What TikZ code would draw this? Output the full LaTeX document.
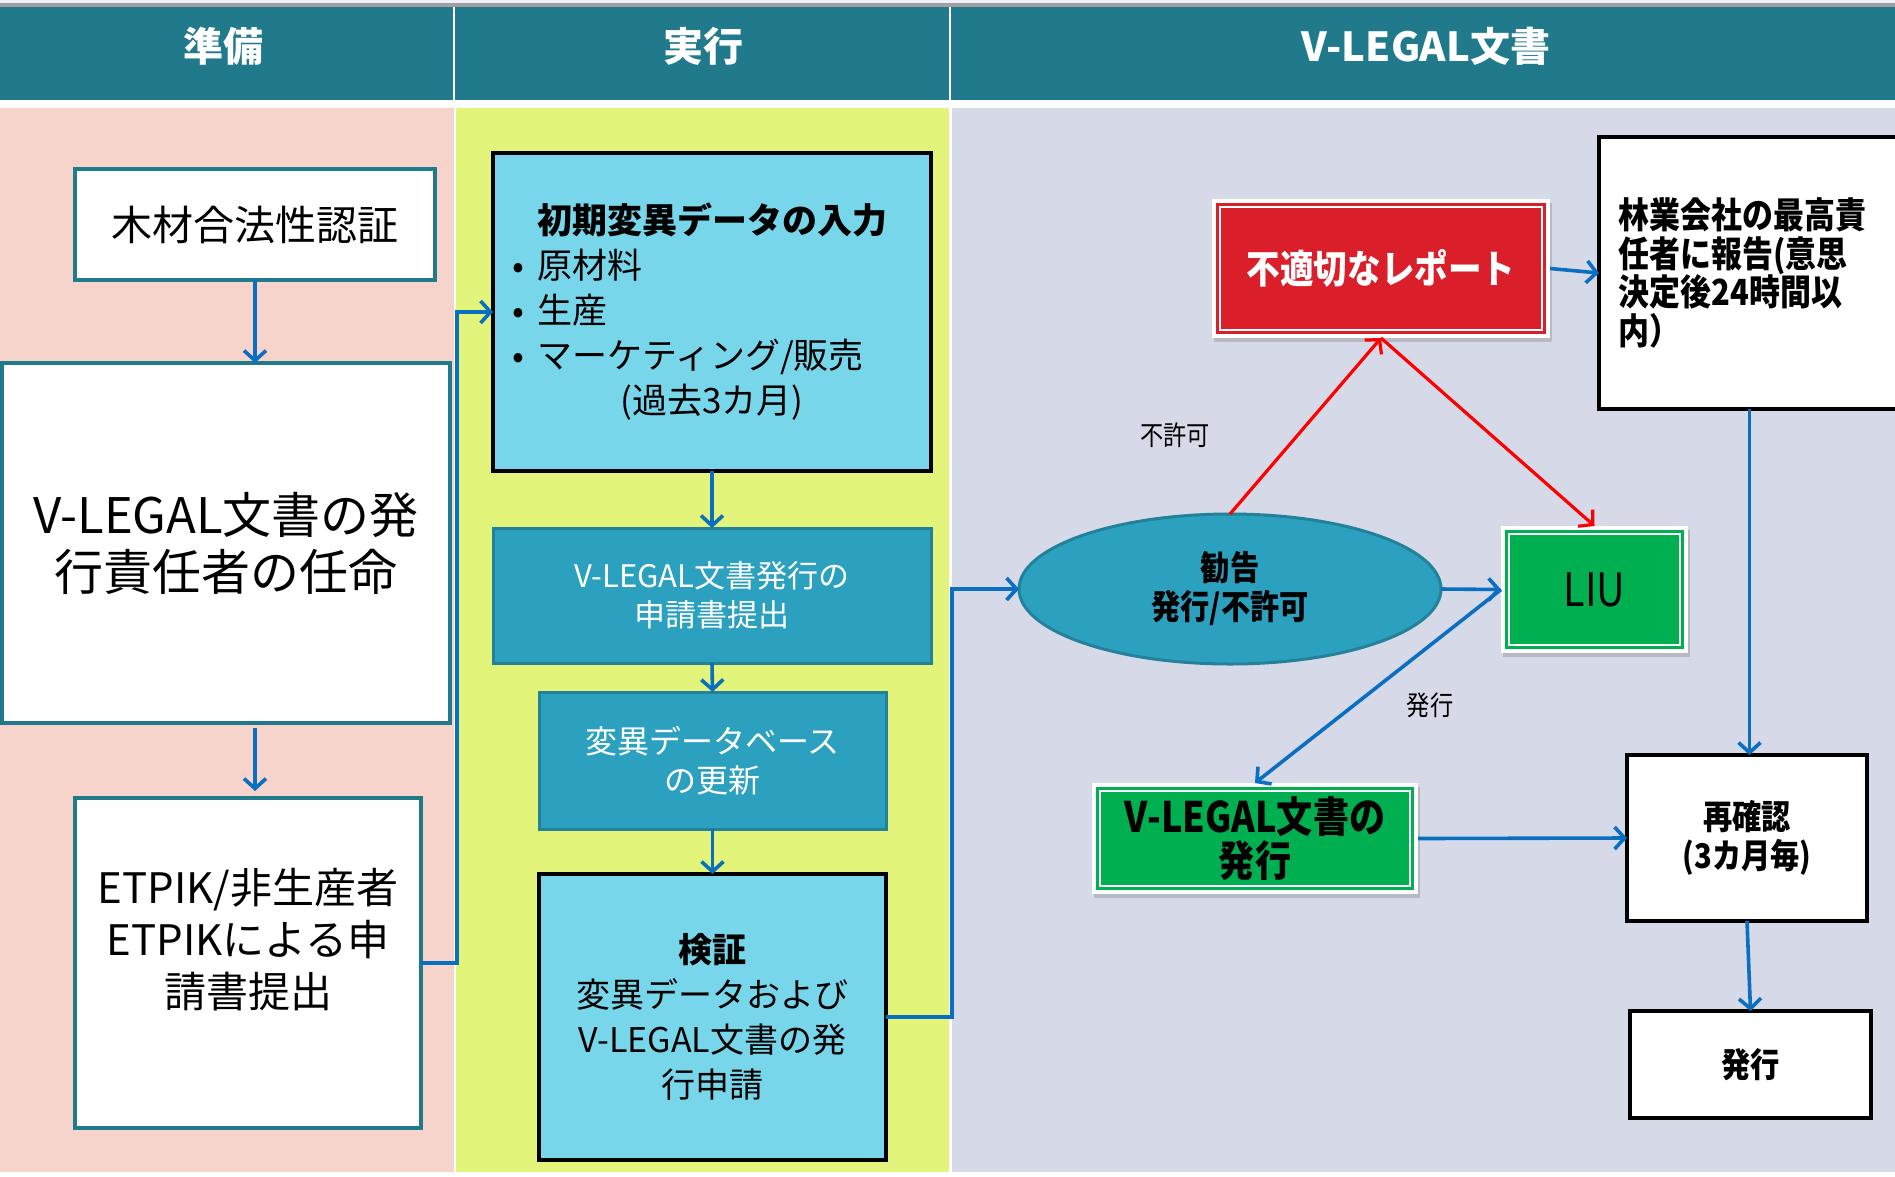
\documentclass[tikz,border=0pt]{standalone}
\usepackage{fontspec}
\setmainfont{Noto Sans CJK JP}
\newfontfamily\cnd[FakeStretch=0.86]{Noto Sans CJK JP}
\usetikzlibrary{arrows.meta,shadows,shapes.geometric,calc}
\definecolor{hdr}{HTML}{217A8C}
\definecolor{lpink}{HTML}{F6D3CB}
\definecolor{lyel}{HTML}{E2F47A}
\definecolor{llav}{HTML}{D6D9E8}
\definecolor{tealbd}{HTML}{217A8C}
\definecolor{lcyan}{HTML}{77D6EA}
\definecolor{tealfill}{HTML}{2CA1BF}
\definecolor{tealdk}{HTML}{23819A}
\definecolor{redbox}{HTML}{DA1F2A}
\definecolor{grn}{HTML}{00B050}
\definecolor{ablue}{HTML}{0B6FC1}
\definecolor{ared}{HTML}{FF0000}
\tikzset{
  base/.style={inner sep=0pt, outer sep=0pt, align=center},
  wbox/.style={base, draw=tealbd, line width=3.5pt, fill=white},
  cbox/.style={base, draw=black, line width=4pt, fill=lcyan},
  tbox/.style={base, draw=tealdk, line width=3pt, fill=tealfill, text=white},
  bbox/.style={base, draw=black, line width=4.5pt, fill=white},
  frbox/.style={base, fill=white, drop shadow={opacity=0.35, shadow xshift=2pt, shadow yshift=-4pt}},
  arr/.style={draw=ablue, line width=3.6pt, -{Straight Barb[length=10pt,width=22pt]}},
  rarr/.style={draw=ared, line width=3.2pt, -{Straight Barb[length=10pt,width=22pt]}},
  hdrtxt/.style={base, text=white, font=\bfseries\fontsize{40}{44}\selectfont},
  lbl/.style={base, font=\cnd\fontsize{27}{30}\selectfont},
}
\begin{document}
\begin{tikzpicture}[x=1pt,y=-1pt]
\useasboundingbox (0,0) rectangle (1895,1176);
\clip (0,0) rectangle (1895,1176);
% background
\fill[white] (0,0) rectangle (1895,1176);
\fill[llav!80!blue!20] (0,0) rectangle (1895,3);
\fill[gray!75] (0,3) rectangle (1895,7);
\fill[hdr] (0,7) rectangle (1895,100);
\draw[white, line width=1.5pt] (454,7) -- (454,100);
\draw[white, line width=1.5pt] (950,7) -- (950,100);
\fill[lpink] (0,108) rectangle (454,1172);
\fill[lyel] (456,108) rectangle (949,1172);
\fill[llav] (952,108) rectangle (1895,1172);
% headers
\node[hdrtxt] (h1) at (223,46) {準備};
\node[hdrtxt] (h2) at (703,46) {実行};
\node[hdrtxt] (h3) at (1426,46) {V-LEGAL文書};
% left column
\node[wbox, minimum width=360, minimum height=111, font=\fontsize{41}{48}\selectfont] (A) at (255,224.5) {木材合法性認証};
\node[wbox, minimum width=448, minimum height=360, font=\fontsize{49}{57}\selectfont] (B) at (226,543) {V-LEGAL文書の発\\行責任者の任命};
\node[wbox, minimum width=346, minimum height=330] (C) at (248,963) {};
\node[base, font=\fontsize{42}{52}\selectfont] (Ct) at (248,940) {ETPIK/非生産者\\ETPIKによる申\\請書提出};
% middle column
\node[cbox, minimum width=438, minimum height=318, text width=400, font=\fontsize{35}{45}\selectfont] (D) at (712,312)
 {{\bfseries 初期変異データの入力}\\
  \makebox[\linewidth][l]{•\hspace{14pt}原材料}\\
  \makebox[\linewidth][l]{•\hspace{14pt}生産}\\
  \makebox[\linewidth][l]{•\hspace{14pt}マーケティング/販売}\\
  (過去3カ月)};
\node[tbox, minimum width=438, minimum height=135, font=\fontsize{31}{39}\selectfont] (E) at (712,595.5) {V-LEGAL文書発行の\\申請書提出};
\node[tbox, minimum width=347, minimum height=137, font=\fontsize{32}{39}\selectfont] (F) at (712.5,760.5) {変異データベース\\の更新};
\node[cbox, minimum width=347, minimum height=286, font=\fontsize{34}{45}\selectfont] (G) at (712.5,1017) {{\bfseries 検証}\\変異データおよび\\V-LEGAL文書の発\\行申請};
% right column
\node[base, ellipse, draw=tealdk, line width=3pt, fill=tealfill, minimum width=422, minimum height=150, font=\cnd\bfseries\fontsize{34}{39}\selectfont] (ell) at (1230,589) {勧告\\発行/不許可};
\node[frbox, minimum width=338, minimum height=139] (red) at (1381,268.5) {};
\fill[redbox] ($(red.north west)+(4,4)$) rectangle ($(red.south east)+(-4,-4)$);
\draw[white, line width=1.5pt] ($(red.north west)+(8,8)$) rectangle ($(red.south east)+(-8,-8)$);
\node[base, text=white, font=\cnd\bfseries\fontsize{39}{42}\selectfont] (redt) at (1381,268.5) {不適切なレポート};
\node[bbox, minimum width=301, minimum height=272, text width=262, align=left, font=\cnd\bfseries\fontsize{36}{38.5}\selectfont] (TR) at (1749.5,273) {林業会社の最高責\\任者に報告(意思\\決定後24時間以\\内）};
\node[frbox, minimum width=187, minimum height=127] (LIU) at (1594.5,589.5) {};
\fill[grn] ($(LIU.north west)+(4,4)$) rectangle ($(LIU.south east)+(-4,-4)$);
\draw[white, line width=1.5pt] ($(LIU.north west)+(8,8)$) rectangle ($(LIU.south east)+(-8,-8)$);
\node[base, font=\cnd\fontsize{46}{48}\selectfont] (LIUt) at (1594.5,589.5) {LIU};
\node[frbox, minimum width=326, minimum height=111] (VL) at (1255,838.5) {};
\fill[grn] ($(VL.north west)+(4,4)$) rectangle ($(VL.south east)+(-4,-4)$);
\draw[white, line width=1.5pt] ($(VL.north west)+(8,8)$) rectangle ($(VL.south east)+(-8,-8)$);
\node[base, font=\cnd\bfseries\fontsize{42}{44}\selectfont] (VLt) at (1255,838.5) {V-LEGAL文書の\\発行};
\node[bbox, minimum width=240, minimum height=166, font=\cnd\bfseries\fontsize{34}{39}\selectfont] (RC) at (1747,838) {再確認\\(3カ月毎)};
\node[bbox, minimum width=241, minimum height=107, font=\cnd\bfseries\fontsize{34}{39}\selectfont] (HK) at (1750.5,1064.5) {発行};
% labels
\node[lbl] (l1) at (1175,435) {不許可};
\node[lbl] (l2) at (1430,705) {発行};
% connectors
\draw[arr] (A.south) -- (A.south |- B.north);
\draw[arr, shorten <=5pt, shorten >=7pt] (B.south -| A.south) -- (C.north -| A.south);
\draw[arr] (C.east) -- ++(36,0) |- (D.west);
\draw[arr] (D.south) -- (E.north);
\draw[arr] (E.south) -- (F.north);
\draw[arr] (F.south) -- (G.north);
\draw[arr] (G.east) -- ++(66,0) |- (ell.west);
\draw[rarr] (ell.north) -- (red.south);
\draw[rarr] (red.south) -- (LIU.north);
\draw[arr] (ell.east) -- (LIU.west);
\draw[arr] (LIU.west) -- (VL.north);
\draw[arr] (red.east) -- (TR.west);
\draw[arr] (TR.south) -- (TR.south |- RC.north);
\draw[arr] (VL.east) -- (RC.west);
\draw[arr] (RC.south) -- (HK.north);
\end{tikzpicture}
\end{document}
